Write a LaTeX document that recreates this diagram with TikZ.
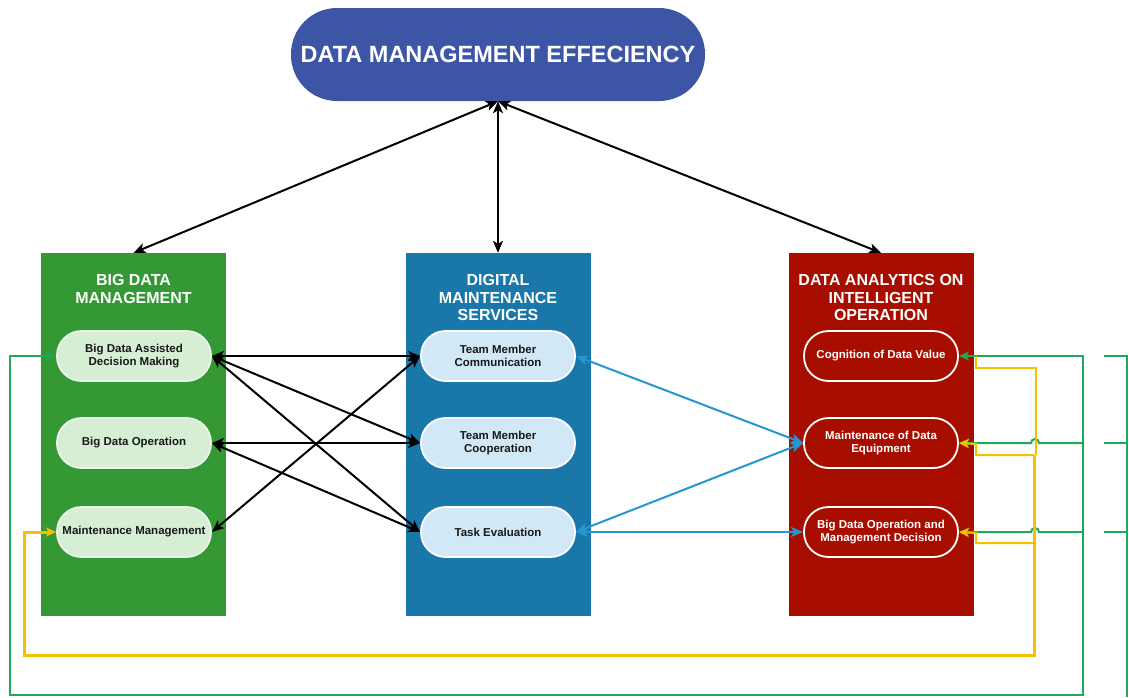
\documentclass[tikz,border=0pt]{standalone}
\usepackage{fontspec}
\setmainfont{Liberation Sans}
\usepackage{xcolor}
\definecolor{ColTop}{RGB}{61,85,165}
\definecolor{ColG}{RGB}{52,152,52}
\definecolor{ColGL}{RGB}{214,238,212}
\definecolor{ColB}{RGB}{25,119,170}
\definecolor{ColBL}{RGB}{209,233,246}
\definecolor{ColR}{RGB}{168,14,0}
\definecolor{ColArr}{RGB}{38,150,210}
\definecolor{ColFbG}{RGB}{30,168,88}
\definecolor{ColFbY}{RGB}{245,192,0}
\usepackage{tikz}
\usetikzlibrary{arrows.meta}
\tikzstyle{Top}=[rectangle,rounded corners=46pt,fill=ColTop,minimum width=414pt,
minimum height=93pt,text=white,font=\fontsize{23.5}{27}\selectfont\bfseries]
\tikzstyle{Box}=[rectangle,minimum width=185pt,minimum height=363pt,inner sep=0pt]
\tikzstyle{BoxTitle}=[text=white,align=center,font=\fontsize{16}{17.5}\selectfont\bfseries]
\tikzstyle{Pill}=[rectangle,rounded corners=24.5pt,minimum width=154pt,minimum height=50pt,
inner sep=0pt,align=center,line width=1.8pt,font=\fontsize{11.5}{13.5}\selectfont\bfseries]
\tikzstyle{PillG}=[Pill,fill=ColGL,draw=white!90!ColG,text=black!90]
\tikzstyle{PillB}=[Pill,fill=ColBL,draw=white,text=black!90]
\tikzstyle{PillR}=[Pill,fill=ColR,draw=white,text=white]
\tikzset{Big/.tip={Stealth[length=12pt,width=10pt,inset=3pt]},
  Tip/.tip={Stealth[length=10pt,width=9pt,inset=2.5pt]}}
\tikzstyle{Edge}=[draw=black,line width=2pt,Big-Big]
\tikzstyle{EdgeB}=[draw=ColArr,line width=2pt,Big-Big]
\tikzstyle{FbG}=[draw=ColFbG,line width=2pt]
\tikzstyle{FbY}=[draw=ColFbY,line width=2pt]

\begin{document}
\begin{tikzpicture}[x=1pt,y=-1pt]
        \useasboundingbox(0,0)rectangle(1129,697);
        \node[Top](T)at(498,54.5){DATA MANAGEMENT EFFECIENCY};
        % the three columns
        \node[Box,fill=ColG](G)at(133.5,434.5){};
        \node[Box,fill=ColB](B)at(498,434.5){};
        \node[Box,fill=ColR](R)at(881,434.5){};
        \node[BoxTitle](Gt)at(133.5,289){BIG DATA\\MANAGEMENT};
        \node[BoxTitle](Bt)at(498,297.5){DIGITAL\\MAINTENANCE\\SERVICES};
        \node[BoxTitle](Rt)at(881,297.5){DATA ANALYTICS ON\\INTELLIGENT\\OPERATION};
        \node[PillG](G1)at(134,356){Big Data Assisted\\Decision Making};
        \node[PillG](G2)at(134,443){Big Data Operation};
        \node[PillG](G3)at(134,532){Maintenance Management};
        \node[PillB](B1)at(498,356){Team Member\\Communication};
        \node[PillB](B2)at(498,443){Team Member\\Cooperation};
        \node[PillB](B3)at(498,532){Task Evaluation};
        \node[PillR](R1)at(881,356){Cognition of Data Value};
        \node[PillR](R2)at(881,443){Maintenance of Data\\Equipment};
        \node[PillR](R3)at(881,532){Big Data Operation and\\Management Decision};
        % links to the top
        \draw[Edge](T.south)--(G.north);
        \draw[Edge](T.south)--(B.north);
        \draw[Edge](T.south)--(R.north);
        % green to blue
        \draw[Edge](G1.east)--(B1.west);
        \draw[Edge](G1.east)--(B2.west);
        \draw[Edge](G1.east)--(B3.west);
        \draw[Edge](G2.east)--(B2.west);
        \draw[Edge](G2.east)--(B3.west);
        \draw[Edge](G3.east)--(B1.west);
        % blue to red
        \draw[EdgeB](B1.east)--(R2.west);
        \draw[EdgeB](B3.east)--(R2.west);
        \draw[EdgeB](B3.east)--(R3.west);
        % green feedback loop
        \draw[FbG,Tip-Tip](R1.east)--(1083,356)--(1083,695)--(10,695)|-(G1.west);
        \draw[FbG,Tip-](R2.east)--(1031,443)arc[start angle=180,end angle=360,radius=4]--(1083,443);
        \draw[FbG,Tip-](R3.east)--(1031,532)arc[start angle=180,end angle=360,radius=4]--(1083,532);
        \draw[FbG](1104,356)--(1127,356)--(1127,697);
        \draw[FbG](1104,443)--(1127,443);
        \draw[FbG](1104,532)--(1127,532);
        % yellow feedback loop
        \draw[FbY](976,356)|-(1036,368)--(1036,455);
        \draw[FbY,Tip-](R2.east)--(976,444)|-(1034,455);
        \draw[FbY,Tip-](R3.east)--(976,533)|-(1034,543);
        \draw[FbY,line width=3pt,-Tip](1034,455)--(1034,655)--(24,655)|-(G3.west);
    \end{tikzpicture}
\end{document}
